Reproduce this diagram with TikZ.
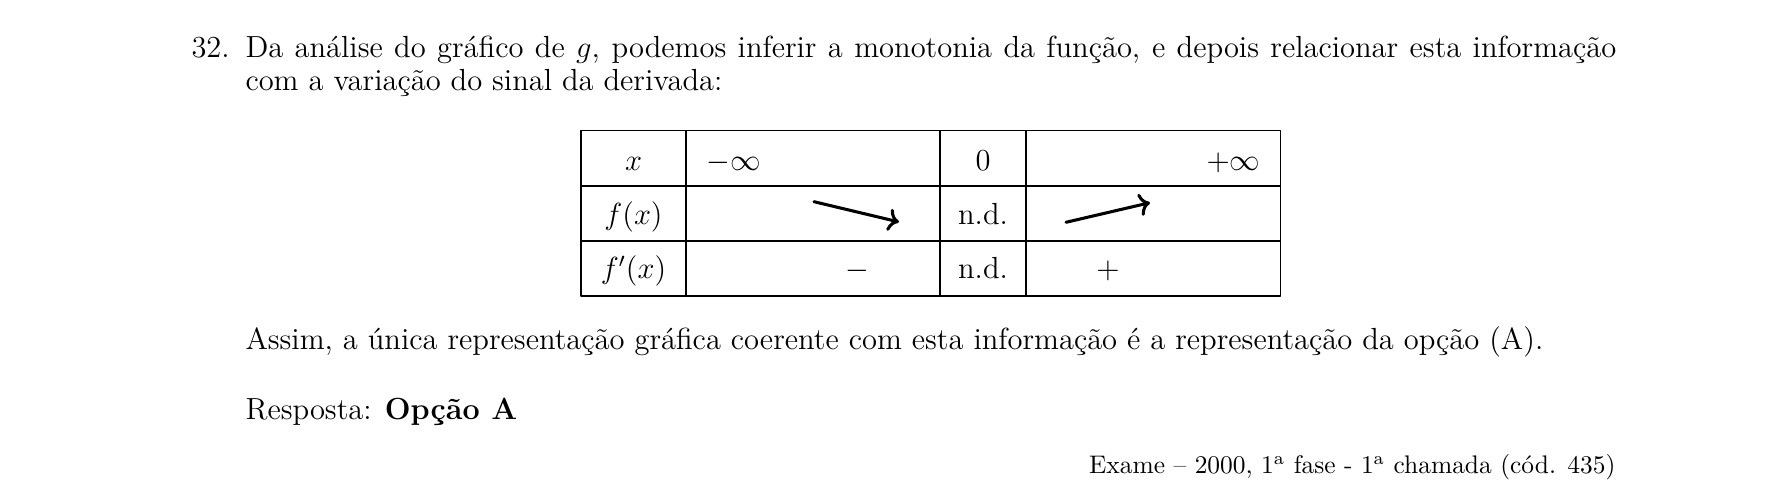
\documentclass[tikz,border=0pt]{standalone}
\usepackage{fontspec}
\usepackage{tkz-euclide}

\begin{document}
\begin{tikzpicture}[x=0.3931pt,y=0.3931pt,line join=round,
    txt/.style={inner sep=0pt,font=\fontsize{12}{14.5}\selectfont},
    ftxt/.style={inner sep=0pt,font=\fontsize{10}{12}\selectfont}]
    \useasboundingbox (0,0) rectangle (1785,480);
    \tkzDefPoints{581/184/A,1280/184/B,1280/349/C,581/349/D}
    \tkzDefPoints{581/294/E,1280/294/F,581/239/G,1280/239/H}
    \tkzDefPoints{686/349/I,686/184/J,940/349/K,940/184/L,1026/349/M,1026/184/N}
    \tkzDefPoints{814/278.3/P,899/258/Q,1066/257.7/R,1150/277.3/S}
    \tkzDrawPolygon[black,line width=0.4pt](A,B,C,D)
    \tkzDrawSegments[black,line width=0.4pt](E,F G,H I,J K,L M,N)
    \tkzDrawSegments[black,very thick,->](P,Q R,S)
    \node[txt,anchor=base west] (num) at (191,422) {32.};
    \node[txt,anchor=base west] (l1) at (245,422) {\makebox[538.9pt][s]{Da análise do gráfico de $g$, podemos inferir a monotonia da função, e depois relacionar esta informação}};
    \node[txt,anchor=base west] (l2) at (245,389) {com a variação do sinal da derivada:};
    \node[txt,anchor=base] (x) at (633.5,309) {$x$};
    \node[txt,anchor=base west] (minf) at (706,309) {$-\infty$};
    \node[txt,anchor=base] (zero) at (983,309) {$0$};
    \node[txt,anchor=base east] (pinf) at (1261,309) {$+\infty$};
    \node[txt,anchor=base] (fx) at (633.5,255) {$f(x)$};
    \node[txt,anchor=base] (nd1) at (983,255) {n.d.};
    \node[txt,anchor=base] (dfx) at (633.5,201) {$f'(x)$};
    \node[txt,anchor=base] (neg) at (857,201) {$-$};
    \node[txt,anchor=base] (nd2) at (983,201) {n.d.};
    \node[txt,anchor=base] (pos) at (1108,201) {$+$};
    \node[txt,anchor=base west] (assim) at (245,130.5) {Assim, a única representação gráfica coerente com esta informação é a representação da opção (A).};
    \node[txt,anchor=base west] (resp) at (245,60) {Resposta: \textbf{Opção A}};
    \node[ftxt,anchor=base east] (src) at (1616,6) {Exame -- 2000, 1\textsuperscript{a} fase - 1\textsuperscript{a} chamada (cód. 435)};
\end{tikzpicture}
\end{document}
